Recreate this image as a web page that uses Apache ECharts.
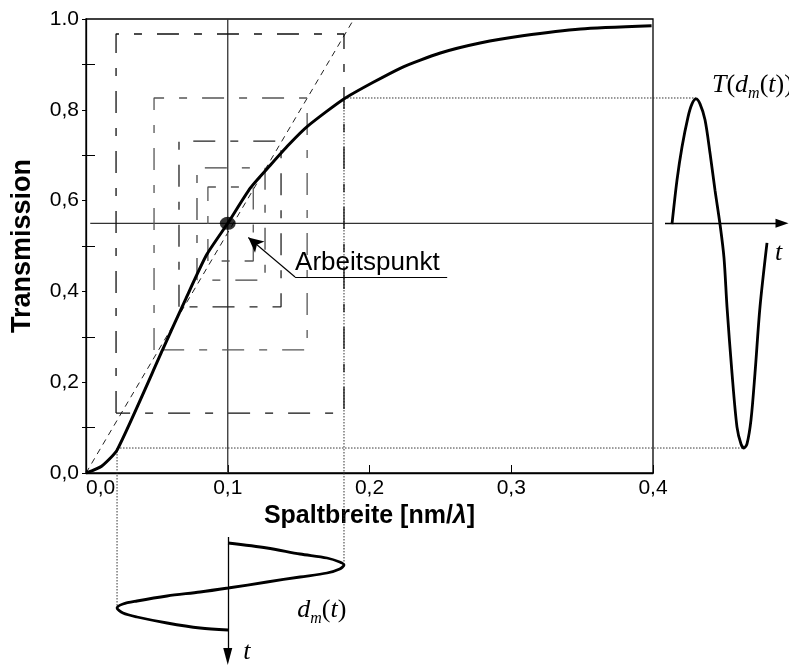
<!DOCTYPE html>
<html>
<head>
<meta charset="UTF-8">
<title>Transmission</title>
<script src="https://cdn.jsdelivr.net/npm/echarts@6/dist/echarts.min.js"></script>
<style>html,body{margin:0;padding:0;background:#fff}</style>
</head>
<body>
<div id="chartDom" style="width:789px;height:666px"></div>
<script type="text/javascript">
// tick labels
var xTickLabels = ['0,0', '0,1', '0,2', '0,3', '0,4'];
var yTickLabels = ['0,0', '0,2', '0,4', '0,6', '0,8', '1.0'];

// Kennlinie T(d)
var curveGap   = [0, 0.011, 0.022, 0.054, 0.070, 0.085, 0.100, 0.116, 0.130, 0.143, 0.156, 0.183, 0.222, 0.250, 0.278, 0.308, 0.349, 0.399];
var curveTrans = [0, 0.015, 0.051, 0.271, 0.381, 0.480, 0.550, 0.628, 0.678, 0.723, 0.763, 0.826, 0.892, 0.925, 0.947, 0.963, 0.978, 0.985];

// Arbeitspunkt and tangent
var workGap = 0.1, workTrans = 0.55;
var tangentGap   = [0, 0.189];
var tangentTrans = [0, 1.0];

// nested boxes around the working point
var boxLeft   = [0.0212, 0.048, 0.0656, 0.0783, 0.086];
var boxRight  = [0.182, 0.156, 0.1376, 0.1263, 0.118];
var boxBottom = [0.132, 0.271, 0.366, 0.425, 0.467];
var boxTop    = [0.967, 0.826, 0.731, 0.672, 0.630];

// modulation extremes on the curve
var modGap   = [0.0219, 0.182];
var modTrans = [0.055, 0.826];

// output signal T(d_m(t)), right
var outTime  = [7, 12, 17, 23, 27, 31, 35, 40, 45, 50, 55, 59, 62, 67, 72, 76, 79, 82, 86, 90, 95, 102];
var outTrans = [0.548, 0.645, 0.718, 0.784, 0.813, 0.824, 0.813, 0.778, 0.705, 0.623, 0.548, 0.474, 0.366, 0.220, 0.101, 0.064, 0.055, 0.064, 0.117, 0.220, 0.366, 0.507];

// input signal d_m(t), below
var inTime = [13, 18, 24, 28, 32, 35, 39, 43, 47, 52, 58, 62, 66, 71, 74, 78, 83, 87, 93, 98, 100];
var inGap  = [0.1002, 0.1277, 0.151, 0.170, 0.179, 0.182, 0.179, 0.170, 0.151, 0.1277, 0.1002, 0.0805, 0.0572, 0.036, 0.0261, 0.0219, 0.0261, 0.036, 0.0572, 0.0805, 0.1002];

var myChart = echarts.init(document.getElementById('chartDom'));
var sans = 'Liberation Sans';
var serif = 'Liberation Serif';

function zip(a, b) {
    return a.map(function (v, i) { return [v, b[i]]; });
}

function seg(data, style, extra) {
    return Object.assign({
        type: 'line', data: data, symbol: 'none', showSymbol: false, silent: true,
        xAxisIndex: 0, yAxisIndex: 0, lineStyle: style, z: 2
    }, extra || {});
}

var boxColors = ['#111', '#555', '#222', '#444', '#555'];
var boxSeries = boxLeft.map(function (l, i) {
    var r = boxRight[i], b = boxBottom[i], t = boxTop[i];
    return seg([[l, b], [l, t], [r, t], [r, b], [l, b]],
        {color: boxColors[i], width: 1.3, type: [22, 15, 8, 15]});
});

var option = {
    animation: false,
    backgroundColor: '#fff',
    grid: [
        {left: 86, top: 19, width: 567, height: 454, show: true, borderColor: '#000', borderWidth: 1.3, outerBoundsMode: 'none'},
        {left: 665, top: 19, width: 124, height: 454, outerBoundsMode: 'none'},
        {left: 86, top: 530, width: 567, height: 136, outerBoundsMode: 'none'}
    ],
    xAxis: [
        {
            gridIndex: 0, type: 'value', min: 0, max: 0.4, interval: 0.1,
            axisLine: {show: true, onZero: false, lineStyle: {color: '#000', width: 1.3}},
            axisTick: {show: true, inside: true, length: 8, lineStyle: {color: '#000', width: 1}},
            axisLabel: {
                formatter: function (v) { return xTickLabels[Math.round(v * 10)]; },
                fontSize: 21, color: '#000', fontFamily: sans, margin: 5, alignMinLabel: 'left'
            },
            splitLine: {show: false},
            name: '{b|Spaltbreite [nm/}{l|λ}{b|]}',
            nameLocation: 'middle', nameGap: 29,
            nameTextStyle: {
                verticalAlign: 'top',
                rich: {
                    b: {fontSize: 25, fontWeight: 'bold', fontFamily: sans, color: '#000'},
                    l: {fontSize: 25, fontWeight: 'bold', fontStyle: 'italic', fontFamily: sans, color: '#000'}
                }
            }
        },
        {gridIndex: 1, type: 'value', min: 0, max: 124, show: false},
        {gridIndex: 2, type: 'value', min: 0, max: 0.4, show: false}
    ],
    yAxis: [
        {
            gridIndex: 0, type: 'value', position: 'left', min: 0, max: 1, interval: 0.2,
            axisLine: {show: true, onZero: false, lineStyle: {color: '#000', width: 1.3}},
            axisTick: {show: true, inside: false, length: 4, lineStyle: {color: '#000', width: 1}},
            minorTick: {show: true, splitNumber: 2, length: 4, lineStyle: {color: '#000', width: 1}},
            axisLabel: {
                formatter: function (v) { return yTickLabels[Math.round(v * 5)]; },
                fontSize: 21, color: '#000', fontFamily: sans, margin: 7
            },
            splitLine: {show: false},
            name: 'Transmission', nameLocation: 'middle', nameGap: 50,
            nameTextStyle: {fontSize: 27, fontWeight: 'bold', fontFamily: sans, color: '#000'}
        },
        {
            gridIndex: 0, type: 'value', position: 'left', min: 0, max: 1, interval: 0.2,
            axisLine: {show: false},
            axisTick: {show: false, inside: true},
            minorTick: {show: true, splitNumber: 2, length: 9, lineStyle: {color: '#000', width: 1}},
            axisLabel: {show: false},
            splitLine: {show: false}
        },
        {gridIndex: 1, type: 'value', min: 0, max: 1, show: false},
        {gridIndex: 2, type: 'value', min: 0, max: 136, inverse: true, show: false}
    ],
    series: [
        seg(zip(curveGap, curveTrans), {color: '#000', width: 3}, {z: 4, smooth: 0.2}),
        seg(zip(tangentGap, tangentTrans), {color: '#222', width: 1, type: [6, 5]}),
        seg([[0.003, workTrans], [0.4, workTrans]], {color: '#333', width: 1.3}, {
            markLine: {
                silent: true, animation: false, label: {show: false},
                lineStyle: {color: '#000', width: 1.1, type: 'solid'},
                data: [
                    [{coord: [0.2548, 0.4317], symbol: 'none'}, {coord: [0.1475, 0.4317], symbol: 'none'}],
                    [{coord: [0.1475, 0.4317], symbol: 'none'}, {coord: [0.1145, 0.5187], symbol: 'arrow', symbolSize: [11, 15]}]
                ]
            }
        }),
        seg([[workGap, 0], [workGap, 1]], {color: '#333', width: 1.3})
    ].concat(boxSeries).concat([
        {
            type: 'scatter', xAxisIndex: 0, yAxisIndex: 0, silent: true, z: 6,
            data: [[workGap, workTrans]], symbol: 'circle', symbolSize: [16, 13],
            itemStyle: {color: '#000'}
        },
        seg(zip(outTime, outTrans), {color: '#000', width: 2.8}, {
            xAxisIndex: 1, yAxisIndex: 2, smooth: 0.3, z: 4,
            markLine: {
                silent: true, animation: false, label: {show: false},
                lineStyle: {color: '#000', width: 1.3, type: 'solid'},
                data: [[{coord: [0, workTrans], symbol: 'none'}, {coord: [117, workTrans], symbol: 'triangle', symbolSize: [9, 13]}]]
            }
        }),
        seg(zip(inGap, inTime), {color: '#000', width: 2.8}, {
            xAxisIndex: 2, yAxisIndex: 3, smooth: 0.3, z: 4,
            markLine: {
                silent: true, animation: false, label: {show: false},
                lineStyle: {color: '#000', width: 1.3, type: 'solid'},
                data: [[{coord: [workGap, 7], symbol: 'none'}, {coord: [workGap, 126.5], symbol: 'triangle', symbolSize: [9, 17]}]]
            }
        })
    ])
};

myChart.setOption(option);

// guides and labels placed through the axes of each grid
function px(grid, p) { return myChart.convertToPixel({gridIndex: grid}, p); }

var iOutMax = outTrans.indexOf(Math.max.apply(null, outTrans));
var iOutMin = outTrans.indexOf(Math.min.apply(null, outTrans));
var iInMax = inGap.indexOf(Math.max.apply(null, inGap));
var iInMin = inGap.indexOf(Math.min.apply(null, inGap));

var lowPt = px(0, [modGap[0], modTrans[0]]);
var highPt = px(0, [modGap[1], modTrans[1]]);
var outHigh = px(1, [outTime[iOutMax], outTrans[iOutMax]]);
var outLow = px(1, [outTime[iOutMin], outTrans[iOutMin]]);
var inHigh = px(2, [inGap[iInMax], inTime[iInMax]]);
var inLow = px(2, [inGap[iInMin], inTime[iInMin]]);

function dotted(a, b) {
    return {
        type: 'polyline', silent: true, z: 1,
        shape: {points: [a, b]},
        style: {stroke: '#333', lineWidth: 1, lineDash: [1.5, 1.5], fill: null}
    };
}

var mathRich = {
    a: {fontSize: 26, fontStyle: 'italic', fontFamily: serif, color: '#000', verticalAlign: 'top', lineHeight: 26},
    n: {fontSize: 26, fontFamily: serif, color: '#000', verticalAlign: 'top', lineHeight: 26},
    s: {fontSize: 16, fontStyle: 'italic', fontFamily: serif, color: '#000', verticalAlign: 'top', lineHeight: 16, padding: [14, 0, 0, 0]}
};

function label(p, text, font, rich, va) {
    return {
        type: 'text', silent: true, z: 10, x: p[0], y: p[1],
        style: {text: text, font: font, fill: '#000', align: 'left', verticalAlign: va || 'top', rich: rich}
    };
}

myChart.setOption({
    graphic: [
        dotted(lowPt, [lowPt[0], inLow[1]]),
        dotted(lowPt, [outLow[0], lowPt[1]]),
        dotted(highPt, [highPt[0], inHigh[1]]),
        dotted(highPt, [outHigh[0], highPt[1]]),
        label(px(0, [0.1475, 0.463]), 'Arbeitspunkt', '26px ' + sans, null, 'middle'),
        label(px(1, [47, 0.883]), '{a|T}{n|(}{a|d}{s|m}{n|(}{a|t}{n|))}', 'italic 26px ' + serif, mathRich),
        label(px(1, [110, 0.485]), '{a|t}', 'italic 26px ' + serif, mathRich, 'middle'),
        label(px(2, [0.149, 67]), '{a|d}{s|m}{n|(}{a|t}{n|)}', 'italic 26px ' + serif, mathRich),
        label(px(2, [0.111, 122]), '{a|t}', 'italic 24px ' + serif, mathRich, 'middle')
    ]
});
</script>
</body>
</html>
